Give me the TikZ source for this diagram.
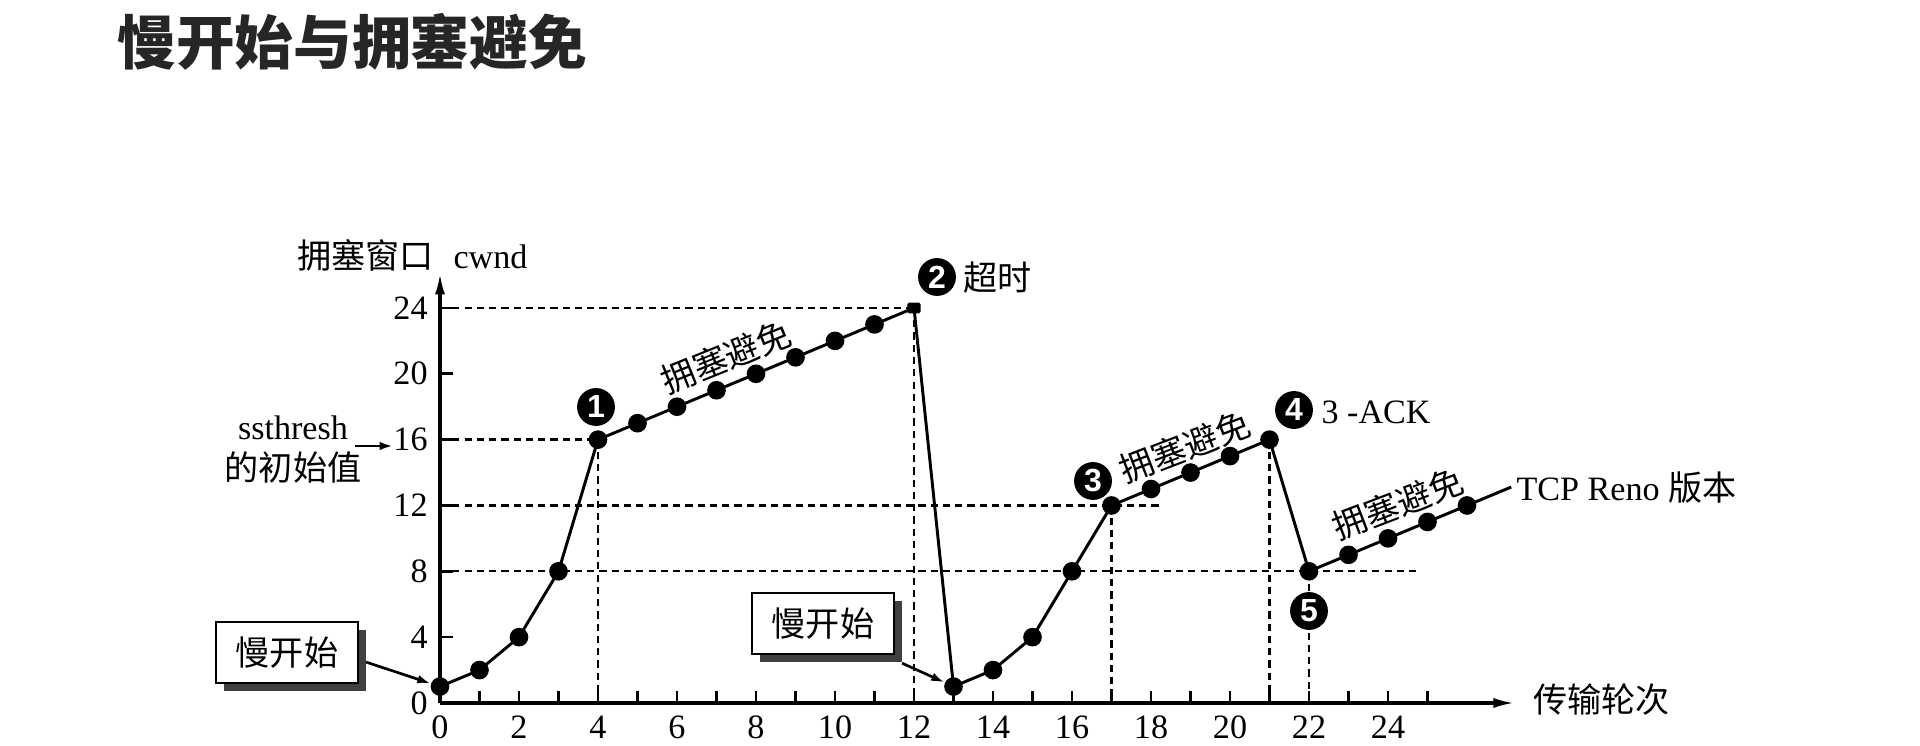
\documentclass[tikz,border=0pt]{standalone}
\usepackage{fontspec}
\setmainfont{Liberation Serif}
\newfontfamily\cjk{Noto Sans CJK SC}
\newfontfamily\numf{Liberation Sans}
\usetikzlibrary{arrows.meta,shadows}
\tikzset{
  axisline/.style={line width=1.15pt,-{Latex[length=7.9pt,width=3.8pt]}},
  tickline/.style={line width=1pt},
  guideline/.style={line width=0.85pt,dash pattern=on 2.7pt off 1.9pt},
  curveline/.style={line width=1.1pt,line join=round},
  pdot/.style={circle,fill=black,inner sep=0pt,minimum size=7pt},
  sqdot/.style={rectangle,fill=black,inner sep=0pt,minimum width=5pt,minimum height=4pt,rounded corners=0.6pt},
  numc/.style={circle,fill=black,text=white,inner sep=0pt,minimum size=14.2pt,font=\numf\bfseries\fontsize{12pt}{12pt}\selectfont},
  sbox/.style={draw=black,line width=0.85pt,fill=white,minimum width=53.25pt,minimum height=22.9pt,inner sep=0pt,font=\cjk\fontsize{12.8pt}{15pt}\selectfont,drop shadow={shadow xshift=3pt,shadow yshift=-3pt,fill=black!75,opacity=1}},
  lbl/.style={inner sep=0pt,font=\fontsize{12.8pt}{15pt}\selectfont},
  cjklbl/.style={inner sep=0pt,font=\cjk\fontsize{12.8pt}{15pt}\selectfont},
  pointer/.style={line width=1pt,-{Latex[length=5pt,width=3.2pt]}},
}
\begin{document}
\begin{tikzpicture}[x=0.375pt,y=-0.375pt]
\useasboundingbox (0,0) rectangle (1920,746);
\fill[white] (0,0) rectangle (1920,746);

% title
\node[inner sep=0pt,text=black!85,font=\cjk\bfseries\fontsize{22pt}{26pt}\selectfont] (title) at (352,42) {慢开始与拥塞避免};

% axis titles
\node[cjklbl,anchor=base west] (ytitle) at (297,269) {拥塞窗口};
\node[lbl,anchor=base west] (ycwnd) at (453,269) {cwnd};
\node[cjklbl,anchor=west] (xtitle) at (1533,700) {传输轮次};

% ssthresh label
\node[lbl] (ssth) at (293,428) {ssthresh};
\node[cjklbl] (ssinit) at (293,467) {的初始值};

\begin{scope}[shift={(165pt,-263.625pt)},x=14.8125pt,y=6.1725pt]
  \coordinate (O) at (0,0);
  \coordinate (xend) at (27.2,0);
  \coordinate (yend) at (0,26.1);
  \foreach \n/\v in {0/1,1/2,2/4,3/8,4/16,5/17,6/18,7/19,8/20,9/21,10/22,11/23,12/24,13/1,14/2,15/4,16/8,17/12,18/13,19/14,20/15,21/16,22/8,23/9,24/10,25/11,26/12}
    \coordinate (p\n) at (\n,\v);
  \coordinate (tail) at (27.12,13.12);
  \coordinate (g12) at (18.3,12);
  \coordinate (g8) at (24.75,8);
  % guides
  \draw[guideline] (0,24) -- (p12);
  \draw[guideline] (0,16) -- (p4);
  \draw[guideline] (0,12) -- (g12);
  \draw[guideline] (0,8) -- (g8);
  \draw[guideline] (p4) -- (4,0);
  \draw[guideline] (p12) -- (12,0);
  \draw[guideline] (p17) -- (17,0);
  \draw[guideline] (p21) -- (21,0);
  \draw[guideline] (p22) -- (22,0);

  \draw[axisline] (O) -- (xend);
  \draw[axisline] (O) -- (yend);
  \foreach \i in {1,...,25} \draw[tickline] (\i,0) -- (\i,0.73);
  \foreach \j in {4,8,...,24} \draw[tickline] (0,\j) -- (0.33,\j);
  \foreach \i in {0,2,...,24} \node[lbl] (xl\i) at (\i,-1.5) {\i};
  \foreach \j in {0,4,...,24} \node[lbl,anchor=east] (yl\j) at (-0.3,\j) {\j};

  % curve
  \draw[curveline] (p0) \foreach \n in {1,...,26} {-- (p\n)} -- (tail);
  \foreach \n in {0,1,2,3,4,5,6,7,8,9,10,11,13,14,15,16,17,18,19,20,21,22,23,24,25,26}
    \node[pdot] (d\n) at (p\n) {};
  \node[sqdot] (d12) at (p12) {};
\end{scope}

% ssthresh arrow
\coordinate (ssa) at (355,446);
\draw[pointer] (ssa) -- (yl16.west |- ssa);

% slow start boxes
\node[sbox] (box1) at (287,652.5) {慢开始};
\node[sbox] (box2) at (823,623.5) {慢开始};
\draw[pointer] ([xshift=2.6pt,yshift=-3.6pt]box1.east) -- (d0);
\draw[pointer] ([xshift=2.6pt,yshift=-3pt]box2.south east) -- (d13);

% congestion avoidance labels
\node[cjklbl,rotate=22] (ca1) at (726,357) {拥塞避免};
\node[cjklbl,rotate=21] (ca2) at (1185,447) {拥塞避免};
\node[cjklbl,rotate=21] (ca3) at (1398,504) {拥塞避免};

% numbered markers
\node[numc] (c1) at (596,407) {1};
\node[numc] (c2) at (937,277) {2};
\node[numc] (c3) at (1093,481) {3};
\node[numc] (c4) at (1294,410) {4};
\node[numc] (c5) at (1309,611) {5};
\node[cjklbl,anchor=west] (timeout) at (963,278) {超时};
\node[lbl,anchor=west] (ack) at (1321,412) {3 -ACK};
\node[lbl,anchor=west] (reno) at (1516,488) {TCP Reno {\cjk 版本}};
\end{tikzpicture}
\end{document}
